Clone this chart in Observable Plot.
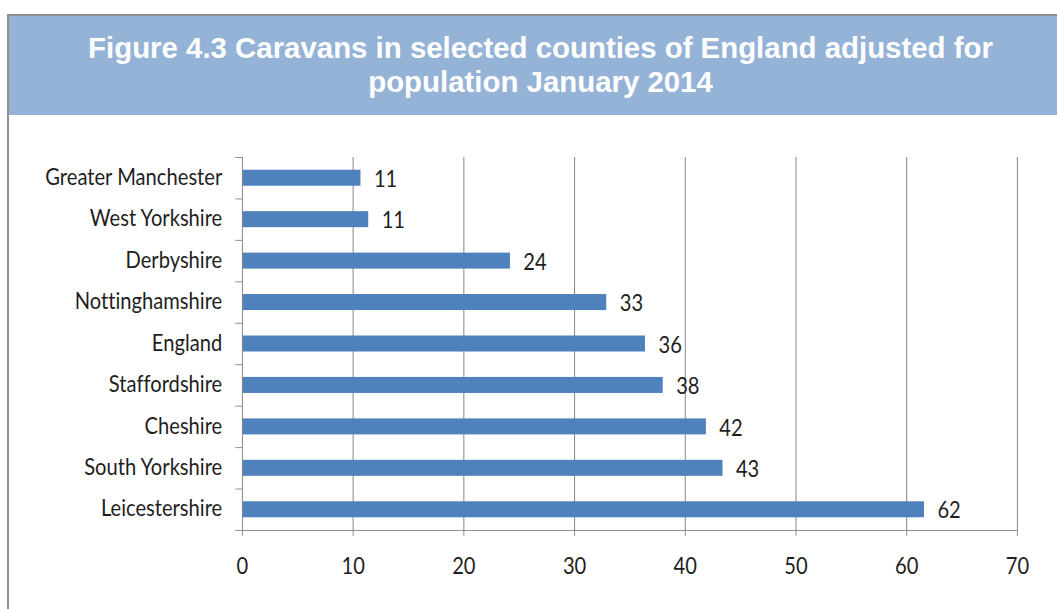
<!DOCTYPE html>
<html>
<head>
<meta charset="utf-8">
<script src="https://cdn.jsdelivr.net/npm/d3@7"></script>
<script src="https://cdn.jsdelivr.net/npm/@observablehq/plot@0.6"></script>
<style>
  html, body { margin: 0; padding: 0; background: #fff; overflow: hidden; width: 1057px; height: 609px; }
  #box { position: absolute; left: 7px; top: 14px; width: 1063px; height: 620px;
         border-left: 2px solid #8f8f8f; border-top: 2px solid #8f8f8f; }
  #banner { height: 99px; background: #95b3d7; color: #fff; text-align: center;
            font-family: "Liberation Sans", Arial, sans-serif; font-weight: bold; font-size: 29.4px;
            line-height: 34px; box-sizing: border-box; padding-top: 15px; white-space: nowrap; }
  #chart { position: absolute; left: 0; top: 99px; width: 1600px; }
  #chart svg { transform: scaleX(0.84); transform-origin: 0 0; display: block; max-width: none !important; height: 494px !important; }
  #chart svg text { font-variant-ligatures: none; font-feature-settings: "liga" 0, "clig" 0; }
</style>
</head>
<body>
<div id="box">
  <div id="banner"></div>
  <div id="chart"></div>
</div>
<script>
const titleLines = ["Figure 4.3 Caravans in selected counties of England adjusted for", "population January 2014"];
const categories = ["Greater Manchester", "West Yorkshire", "Derbyshire", "Nottinghamshire", "England", "Staffordshire", "Cheshire", "South Yorkshire", "Leicestershire"];
const values = [10.7, 11.4, 24.2, 32.9, 36.4, 38.0, 41.9, 43.4, 61.6];
const valueLabels = ["11", "11", "24", "33", "36", "38", "42", "43", "62"];
const xTicks = [0, 10, 20, 30, 40, 50, 60, 70];

document.getElementById("banner").innerHTML = titleLines.join("<br>");

const data = categories.map((c, i) => ({category: c, value: values[i], label: valueLabels[i]}));

const k = 0.84;
const height = 494, marginTop = 42, marginBottom = 79;
const realLeft = 233, realRight = 1008, realWidth = 1063;
const width = realWidth / k;
const marginLeft = realLeft / k;
const marginRight = width - realRight / k;
const step = (height - marginTop - marginBottom) / categories.length;
const gray = "#878787";
const ink = "#1e1e1e";
const font = "Lato, 'Open Sans', sans-serif";

const chart = Plot.plot({
  width, height, marginTop, marginBottom, marginLeft, marginRight,
  style: {fontFamily: font, fontSize: "24px", background: "transparent", overflow: "visible"},
  x: {domain: [0, 70], ticks: xTicks, label: null},
  y: {domain: categories, paddingInner: 0.614, paddingOuter: 0.307, round: false, label: null},
  marks: [
    Plot.gridX(xTicks.slice(1), {stroke: gray, strokeOpacity: 1, strokeWidth: 1.2}),
    Plot.barX(data, {x: "value", y: "category", fill: "#4f81bd"}),
    Plot.text(data, {x: "value", y: "category", text: "label", textAnchor: "start", dx: 15.5, dy: 1, fill: ink, fontSize: 24}),
    Plot.ruleX([0], {stroke: gray, strokeWidth: 1.2}),
    Plot.ruleY([categories[categories.length - 1]], {x1: 0, x2: 70, dy: step / 2, stroke: gray}),
    Plot.axisY({tickSize: 8, text: null, dy: -step / 2, stroke: gray, label: null}),
    Plot.axisY({ticks: [categories[categories.length - 1]], tickSize: 8, text: null, dy: step / 2, stroke: gray, label: null}),
    Plot.axisY({tickSize: 0, tickPadding: 24, fill: ink, fontSize: 24, dy: -1, label: null}),
    Plot.axisX({ticks: xTicks, tickSize: 6, text: null, stroke: gray, label: null}),
    Plot.axisX({ticks: xTicks, tickSize: 0, tickPadding: 26, fill: ink, fontSize: 24, label: null})
  ]
});
document.getElementById("chart").appendChild(chart);
</script>
</body>
</html>
